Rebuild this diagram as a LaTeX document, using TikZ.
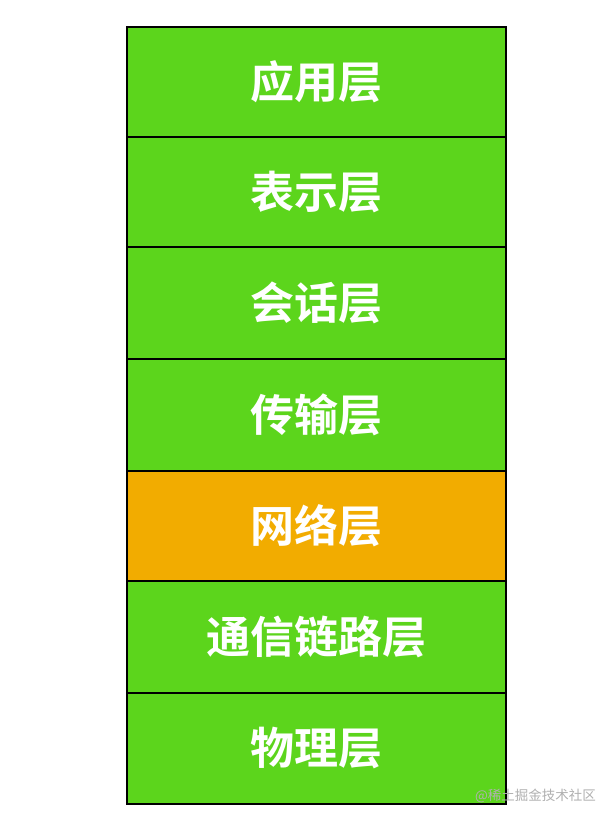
\documentclass[tikz,border=0pt]{standalone}
\usepackage{fontspec}
\newfontfamily\cjk{Noto Sans CJK SC}
\newfontfamily\cjkbold{Noto Sans CJK SC Bold}
\definecolor{laygreen}{HTML}{5CD51C}
\definecolor{layorange}{HTML}{F2AC00}
\definecolor{wmgray}{HTML}{B0B0B0}
\tikzset{
  layer/.style={draw=black, line width=1.6pt, fill=laygreen, minimum width=379pt, inner sep=0pt, text=white, font=\cjkbold\fontsize{44}{44}\selectfont},
}
\begin{document}
\begin{tikzpicture}[x=1pt,y=-1pt]
\useasboundingbox (0,0) rectangle (614,822);
\fill[white] (0,0) rectangle (614,822);
\node[layer, minimum height=110pt, anchor=north west] (l7) at (126,26) {应用层};
\node[layer, minimum height=110pt, anchor=north west] (l6) at (126,136) {表示层};
\node[layer, minimum height=112pt, anchor=north west] (l5) at (126,246) {会话层};
\node[layer, minimum height=112pt, anchor=north west] (l4) at (126,358) {传输层};
\node[layer, minimum height=110pt, anchor=north west, fill=layorange] (l3) at (126,470) {网络层};
\node[layer, minimum height=112pt, anchor=north west] (l2) at (126,580) {通信链路层};
\node[layer, minimum height=111pt, anchor=north west] (l1) at (126,692) {物理层};
\node[anchor=east, text=wmgray, font=\cjk\fontsize{13.5}{13.5}\selectfont, inner sep=0pt] (wm) at (596,796) {@稀土掘金技术社区};
\end{tikzpicture}
\end{document}
